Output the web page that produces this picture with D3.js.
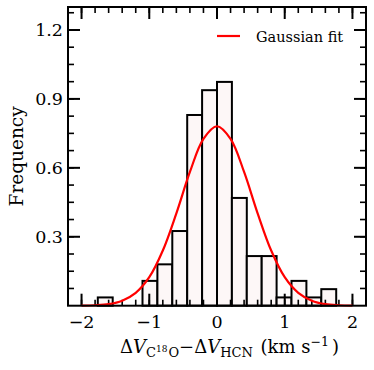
<!DOCTYPE html>
<html>
<head>
<meta charset="utf-8">
<script src="https://cdn.jsdelivr.net/npm/d3@7/dist/d3.min.js"></script>
<style>
  html, body { margin: 0; padding: 0; background: #fff; }
  svg { display: block; }
  text { font-family: "DejaVu Serif", serif; fill: #000; }
</style>
</head>
<body>
<svg id="chart" width="374" height="370"></svg>
<script>
// ---- data ----
const binLo = [-1.76, -1.54, -1.32, -1.10, -0.88, -0.66, -0.44, -0.22, 0.00, 0.22, 0.44, 0.66, 0.88, 1.10, 1.32, 1.54];
const binHi = [-1.54, -1.32, -1.10, -0.88, -0.66, -0.44, -0.22, 0.00, 0.22, 0.44, 0.66, 0.88, 1.10, 1.32, 1.54, 1.76];
const freq  = [0.036, 0, 0, 0.108, 0.180, 0.325, 0.830, 0.938, 0.974, 0.469, 0.216, 0.216, 0.036, 0.108, 0.036, 0.072];

const fitX = [-2.0, -1.8, -1.6, -1.4, -1.2, -1.0, -0.8, -0.6, -0.4, -0.2, 0.0, 0.2, 0.4, 0.6, 0.8, 1.0, 1.2, 1.4, 1.6, 1.8, 2.0];
const fitY = [0.0005, 0.002, 0.007, 0.022, 0.056, 0.124, 0.240, 0.402, 0.582, 0.726, 0.781, 0.726, 0.582, 0.402, 0.240, 0.124, 0.056, 0.022, 0.007, 0.002, 0.0005];

const xMajor = [-2, -1, 0, 1, 2];
const xMajorLabels = ["\u22122", "\u22121", "0", "1", "2"];
const xMinor = [-2.0, -1.8, -1.6, -1.4, -1.2, -1.0, -0.8, -0.6, -0.4, -0.2, 0.0, 0.2, 0.4, 0.6, 0.8, 1.0, 1.2, 1.4, 1.6, 1.8, 2.0];
const yMajor = [0.3, 0.6, 0.9, 1.2];
const yMajorLabels = ["0.3", "0.6", "0.9", "1.2"];
const yMinor = [0.075, 0.15, 0.225, 0.3, 0.375, 0.45, 0.525, 0.6, 0.675, 0.75, 0.825, 0.9, 0.975, 1.05, 1.125, 1.2, 1.275];

const legendLabel = "Gaussian fit";
const yLabel = "Frequency";

// ---- layout ----
const L = 68, R = 366, T = 7, B = 305.7;
const svg = d3.select("#chart");
const x = d3.scaleLinear().domain([-2.2, 2.2]).range([L, R]);
const y = d3.scaleLinear().domain([0, 1.3]).range([B, T]);

// bars
svg.append("g").selectAll("rect")
  .data(freq.map((f, i) => ({lo: binLo[i], hi: binHi[i], f})).filter(d => d.f > 0))
  .join("rect")
  .attr("x", d => x(d.lo))
  .attr("width", d => x(d.hi) - x(d.lo))
  .attr("y", d => y(d.f))
  .attr("height", d => y(0) - y(d.f))
  .attr("fill", "#fdf7f7")
  .attr("stroke", "#000")
  .attr("stroke-width", 2);

// ticks (inward, all four sides)
const tickG = svg.append("g").attr("stroke", "#000");
const majLen = 12, minLen = 6;
xMinor.forEach(v => {
  tickG.append("line").attr("x1", x(v)).attr("x2", x(v)).attr("y1", B).attr("y2", B - minLen).attr("stroke-width", 1.6);
  tickG.append("line").attr("x1", x(v)).attr("x2", x(v)).attr("y1", T).attr("y2", T + minLen).attr("stroke-width", 1.6);
});
xMajor.forEach(v => {
  tickG.append("line").attr("x1", x(v)).attr("x2", x(v)).attr("y1", B).attr("y2", B - majLen).attr("stroke-width", 2);
  tickG.append("line").attr("x1", x(v)).attr("x2", x(v)).attr("y1", T).attr("y2", T + majLen).attr("stroke-width", 2);
});
yMinor.forEach(v => {
  tickG.append("line").attr("x1", L).attr("x2", L + minLen).attr("y1", y(v)).attr("y2", y(v)).attr("stroke-width", 1.6);
  tickG.append("line").attr("x1", R).attr("x2", R - minLen).attr("y1", y(v)).attr("y2", y(v)).attr("stroke-width", 1.6);
});
yMajor.forEach(v => {
  tickG.append("line").attr("x1", L).attr("x2", L + majLen).attr("y1", y(v)).attr("y2", y(v)).attr("stroke-width", 2);
  tickG.append("line").attr("x1", R).attr("x2", R - majLen).attr("y1", y(v)).attr("y2", y(v)).attr("stroke-width", 2);
});

// fit curve
const line = d3.line().x((d, i) => x(fitX[i])).y(d => y(d)).curve(d3.curveCatmullRom.alpha(0.5));
svg.append("path").datum(fitY).attr("d", line)
  .attr("fill", "none").attr("stroke", "#ff0000").attr("stroke-width", 2.2);

// frame
svg.append("rect").attr("x", L).attr("y", T).attr("width", R - L).attr("height", B - T)
  .attr("fill", "none").attr("stroke", "#000").attr("stroke-width", 2);

// tick labels
svg.append("g").selectAll("text").data(xMajor).join("text")
  .attr("x", d => x(d)).attr("y", 328).attr("text-anchor", "middle")
  .attr("font-size", 17.5).text((d, i) => xMajorLabels[i]);
svg.append("g").selectAll("text").data(yMajor).join("text")
  .attr("x", 63).attr("y", d => y(d)).attr("dy", "0.36em").attr("text-anchor", "end")
  .attr("font-size", 17.5).text((d, i) => yMajorLabels[i]);

// y label
svg.append("text").attr("transform", "translate(23," + ((T + B) / 2) + ") rotate(-90)")
  .attr("text-anchor", "middle").attr("font-size", 18.5).text(yLabel);

// x label (math)
const xl = svg.append("text").attr("x", 120).attr("y", 353).attr("font-size", 18);
xl.append("tspan").text("\u0394");
xl.append("tspan").attr("font-style", "italic").text("V");
xl.append("tspan").attr("font-size", 13).attr("dy", 4).text("C");
xl.append("tspan").attr("font-size", 9).attr("dy", -5).text("18");
xl.append("tspan").attr("font-size", 13).attr("dy", 5).attr("dx", 1).text("O");
xl.append("tspan").attr("dy", -4).text("\u2212\u0394");
xl.append("tspan").attr("font-style", "italic").text("V");
xl.append("tspan").attr("font-size", 13).attr("dy", 4).text("HCN");
xl.append("tspan").attr("dy", -4).attr("dx", 2).text(" (km s");
xl.append("tspan").attr("font-size", 12.5).attr("dy", -7).text("\u22121");
xl.append("tspan").attr("dy", 7).attr("dx", 3).text(")");

// legend
svg.append("line").attr("x1", 217).attr("x2", 240).attr("y1", 36).attr("y2", 36)
  .attr("stroke", "#ff0000").attr("stroke-width", 2.2);
svg.append("text").attr("x", 256).attr("y", 41.5).attr("font-size", 14.5).text(legendLabel);
</script>
</body>
</html>
